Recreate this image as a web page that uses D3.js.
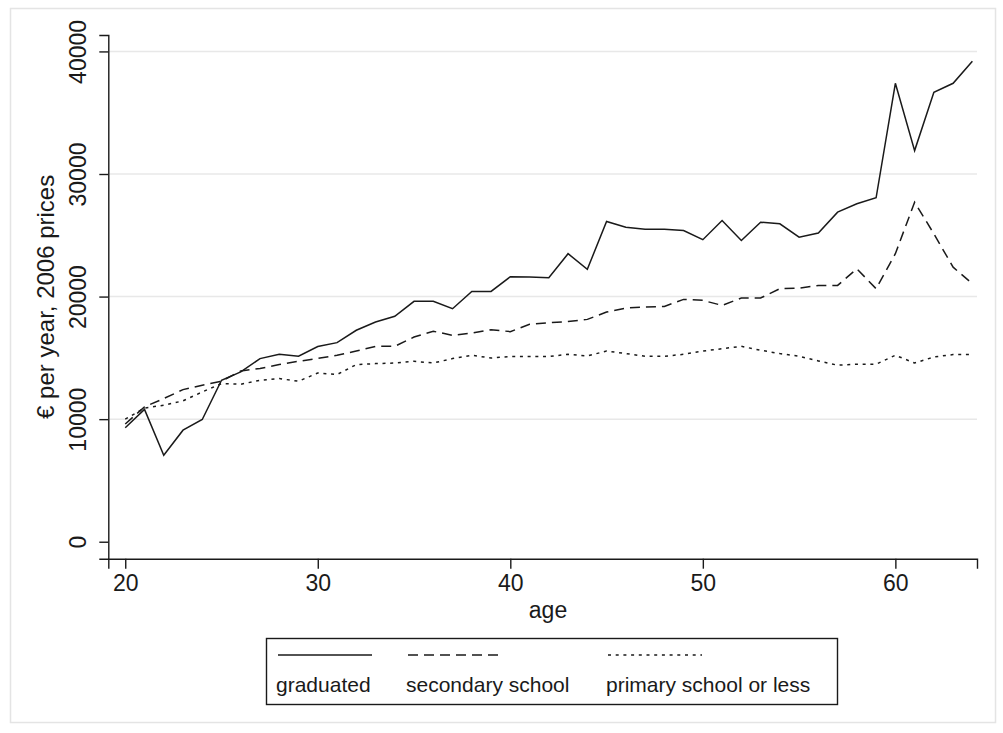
<!DOCTYPE html>
<html>
<head>
<meta charset="utf-8">
<script src="https://cdn.jsdelivr.net/npm/d3@7"></script>
<style>
  html, body { margin: 0; padding: 0; background: #fff; }
  svg { display: block; font-family: "Liberation Sans", Arial, sans-serif; }
</style>
</head>
<body>
<svg id="chart" width="1003" height="733"></svg>
<script>
// Annual income by age and education level (€ per year, 2006 prices)
const ages = d3.range(20, 65);

const graduated = [
  9300, 10800, 7060, 9100, 9970, 13170, 13850, 14940, 15290, 15130,
  15920, 16240, 17250, 17920, 18390, 19610, 19610, 19010, 20420, 20420,
  21620, 21590, 21540, 23500, 22220, 26130, 25660, 25500, 25500, 25390,
  24640, 26210, 24580, 26070, 25940, 24850, 25180, 26890, 27570, 28060,
  37400, 31910, 36660, 37400, 39190
];

const secondary = [
  9600, 11000, 11680, 12410, 12770, 13100, 13930, 14130, 14450, 14720,
  14960, 15210, 15560, 15940, 15940, 16700, 17170, 16840, 17030, 17300,
  17140, 17740, 17870, 17960, 18140, 18740, 19060, 19150, 19200, 19770,
  19690, 19280, 19880, 19880, 20640, 20690, 20910, 20910, 22270, 20640,
  23500, 27700, 25120, 22400, 21050
];

const primary = [
  10000, 10900, 11140, 11490, 12220, 12900, 12850, 13170, 13310, 13090,
  13770, 13640, 14450, 14530, 14580, 14720, 14580, 14940, 15210, 14990,
  15100, 15110, 15110, 15290, 15150, 15560, 15350, 15130, 15130, 15290,
  15550, 15750, 15940, 15620, 15350, 15130, 14750, 14400, 14480, 14480,
  15210, 14580, 15070, 15270, 15270
];

const seriesNames = ["graduated", "secondary school", "primary school or less"];
const xTicks = [20, 30, 40, 50, 60];
const yTicks = [0, 10000, 20000, 30000, 40000];

const series = [
  { name: seriesNames[0], values: graduated, dash: null },
  { name: seriesNames[1], values: secondary, dash: "10,6" },
  { name: seriesNames[2], values: primary, dash: "3,4.7" }
];

const svg = d3.select("#chart");
const ink = "#1a1a1a";
const tickFont = 23;

// outer frame of the graph region
svg.append("rect")
  .attr("x", 10.5).attr("y", 8.5)
  .attr("width", 985).attr("height", 714)
  .attr("fill", "#fff").attr("stroke", "#e4e4e4").attr("stroke-width", 1.5);

const x = d3.scaleLinear().domain([19.12, 64.24]).range([108.3, 977]);
const y = d3.scaleLinear().domain([-1385, 41340]).range([558.7, 35]);

// horizontal gridlines
svg.append("g")
  .selectAll("line")
  .data(yTicks.filter(d => d > 0))
  .join("line")
  .attr("x1", x.range()[0]).attr("x2", x.range()[1])
  .attr("y1", d => y(d)).attr("y2", d => y(d))
  .attr("stroke", "#e8e8e8").attr("stroke-width", 1.5);

// y axis, labels rotated to run along the axis
const yAxis = svg.append("g")
  .attr("transform", `translate(${x.range()[0]},0)`)
  .call(d3.axisLeft(y).tickValues(yTicks).tickSize(9).tickFormat(d3.format("d")));
yAxis.select(".domain").attr("stroke", ink).attr("stroke-width", 1.4);
yAxis.selectAll(".tick line").attr("stroke", ink).attr("stroke-width", 1.4);
yAxis.selectAll(".tick text")
  .attr("font-size", tickFont).attr("fill", ink)
  .attr("text-anchor", "middle")
  .attr("x", 0).attr("y", -22).attr("dy", null)
  .attr("transform", "rotate(-90)");

// x axis
const xAxis = svg.append("g")
  .attr("transform", `translate(0,${y.range()[0]})`)
  .call(d3.axisBottom(x).tickValues(xTicks).tickSize(10).tickPadding(6).tickFormat(d3.format("d")));
xAxis.select(".domain").attr("stroke", ink).attr("stroke-width", 1.4);
xAxis.selectAll(".tick line").attr("stroke", ink).attr("stroke-width", 1.4);
xAxis.selectAll(".tick text").attr("font-size", tickFont).attr("fill", ink);

// axis titles
svg.append("text")
  .attr("x", 548).attr("y", 618)
  .attr("text-anchor", "middle").attr("font-size", 23).attr("fill", ink)
  .text("age");

svg.append("text")
  .attr("transform", `translate(54,${(y.range()[0] + y.range()[1]) / 2}) rotate(-90)`)
  .attr("text-anchor", "middle").attr("font-size", 24).attr("fill", ink)
  .text("€ per year, 2006 prices");

// series lines
const line = d3.line()
  .x((d, i) => x(ages[i]))
  .y(d => y(d));

svg.append("g")
  .selectAll("path")
  .data(series)
  .join("path")
  .attr("d", d => line(d.values))
  .attr("fill", "none")
  .attr("stroke", ink)
  .attr("stroke-width", 1.5)
  .attr("stroke-dasharray", d => d.dash);

// legend
const legend = svg.append("g");
legend.append("rect")
  .attr("x", 266.5).attr("y", 638.5).attr("width", 571).attr("height", 66)
  .attr("fill", "#fff").attr("stroke", ink).attr("stroke-width", 1.4);

const legendX = [278, 408, 608];
const items = legend.selectAll("g.item")
  .data(series)
  .join("g").attr("class", "item")
  .attr("transform", (d, i) => `translate(${legendX[i]},0)`);
items.append("line")
  .attr("x1", 0).attr("x2", 94).attr("y1", 655).attr("y2", 655)
  .attr("stroke", ink).attr("stroke-width", 1.5)
  .attr("stroke-dasharray", d => d.dash);
items.append("text")
  .attr("x", -2).attr("y", 692)
  .attr("font-size", 21).attr("fill", ink)
  .text(d => d.name);
</script>
</body>
</html>
